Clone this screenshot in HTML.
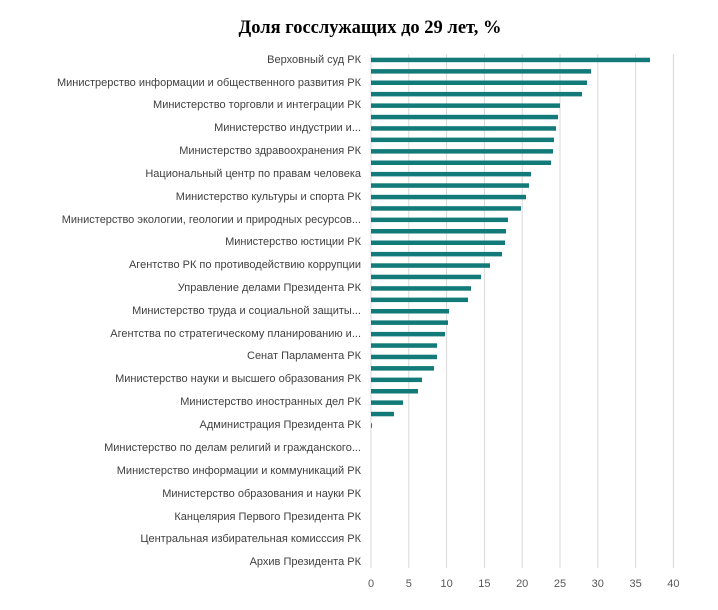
<!DOCTYPE html>
<html><head><meta charset="utf-8"><style>
body{margin:0;background:#fff;}
svg text{font-family:"Liberation Sans",sans-serif;}
</style></head><body>
<svg width="718" height="605" xmlns="http://www.w3.org/2000/svg">
<rect width="718" height="605" fill="#fff"/>
<text x="370" y="33" text-anchor="middle" style="font-family:'Liberation Serif',serif;font-weight:bold;font-size:18.5px" fill="#000">Доля госслужащих до 29 лет, %</text>
<g stroke="#d9d9d9" stroke-width="1">
<line x1="371" y1="54" x2="371" y2="568"/><line x1="408.8" y1="54" x2="408.8" y2="568"/><line x1="446.6" y1="54" x2="446.6" y2="568"/><line x1="484.4" y1="54" x2="484.4" y2="568"/><line x1="522.2" y1="54" x2="522.2" y2="568"/><line x1="560" y1="54" x2="560" y2="568"/><line x1="597.8" y1="54" x2="597.8" y2="568"/><line x1="635.6" y1="54" x2="635.6" y2="568"/><line x1="673.4" y1="54" x2="673.4" y2="568"/>
</g>
<g fill="#595959" font-size="11" text-anchor="middle">
<text x="371" y="587">0</text><text x="408.8" y="587">5</text><text x="446.6" y="587">10</text><text x="484.4" y="587">15</text><text x="522.2" y="587">20</text><text x="560" y="587">25</text><text x="597.8" y="587">30</text><text x="635.6" y="587">35</text><text x="673.4" y="587">40</text>
</g>
<g fill="#404040" font-size="11" text-anchor="end">
<text x="361" y="63">Верховный суд РК</text>
<text x="361" y="86">Министрерство информации и общественного развития РК</text>
<text x="361" y="108">Министерство торговли и интеграции РК</text>
<text x="361" y="131">Министерство индустрии и...</text>
<text x="361" y="154">Министерство здравоохранения РК</text>
<text x="361" y="177">Национальный центр по правам человека</text>
<text x="361" y="200">Министерство культуры и спорта РК</text>
<text x="361" y="223">Министерство экологии, геологии и природных ресурсов...</text>
<text x="361" y="245">Министерство юстиции РК</text>
<text x="361" y="268">Агентство РК по противодействию коррупции</text>
<text x="361" y="291">Управление делами Президента РК</text>
<text x="361" y="314">Министерство труда и социальной защиты...</text>
<text x="361" y="337">Агентства по стратегическому планированию и...</text>
<text x="361" y="359">Сенат Парламента РК</text>
<text x="361" y="382">Министерство науки и высшего образования РК</text>
<text x="361" y="405">Министерство иностранных дел РК</text>
<text x="361" y="428">Администрация Президента РК</text>
<text x="361" y="451">Министерство по делам религий и гражданского...</text>
<text x="361" y="474">Министерство информации и коммуникаций РК</text>
<text x="361" y="497">Министерство образования и науки РК</text>
<text x="361" y="520">Канцелярия Первого Президента РК</text>
<text x="361" y="542">Центральная избирательная комисссия РК</text>
<text x="361" y="565">Архив Президента РК</text>
</g>
<g fill="#137a7a">
<rect x="371" y="57.7" width="279" height="4.5"/>
<rect x="371" y="69.1" width="220" height="4.5"/>
<rect x="371" y="80.5" width="216" height="4.5"/>
<rect x="371" y="91.9" width="211" height="4.5"/>
<rect x="371" y="103.4" width="189" height="4.5"/>
<rect x="371" y="114.8" width="187" height="4.5"/>
<rect x="371" y="126.2" width="185" height="4.5"/>
<rect x="371" y="137.6" width="183" height="4.5"/>
<rect x="371" y="149.1" width="182" height="4.5"/>
<rect x="371" y="160.5" width="180" height="4.5"/>
<rect x="371" y="171.9" width="160" height="4.5"/>
<rect x="371" y="183.3" width="158" height="4.5"/>
<rect x="371" y="194.8" width="155" height="4.5"/>
<rect x="371" y="206.2" width="150" height="4.5"/>
<rect x="371" y="217.6" width="137" height="4.5"/>
<rect x="371" y="229" width="135" height="4.5"/>
<rect x="371" y="240.5" width="134" height="4.5"/>
<rect x="371" y="251.9" width="131" height="4.5"/>
<rect x="371" y="263.3" width="119" height="4.5"/>
<rect x="371" y="274.7" width="110" height="4.5"/>
<rect x="371" y="286.2" width="100" height="4.5"/>
<rect x="371" y="297.6" width="97" height="4.5"/>
<rect x="371" y="309" width="78" height="4.5"/>
<rect x="371" y="320.4" width="77" height="4.5"/>
<rect x="371" y="331.9" width="74" height="4.5"/>
<rect x="371" y="343.3" width="66" height="4.5"/>
<rect x="371" y="354.7" width="66" height="4.5"/>
<rect x="371" y="366.1" width="63" height="4.5"/>
<rect x="371" y="377.6" width="51" height="4.5"/>
<rect x="371" y="389" width="47" height="4.5"/>
<rect x="371" y="400.4" width="32" height="4.5"/>
<rect x="371" y="411.8" width="23" height="4.5"/>
<rect x="371" y="423.3" width="1" height="4.5"/>
</g>
</svg>
</body></html>
